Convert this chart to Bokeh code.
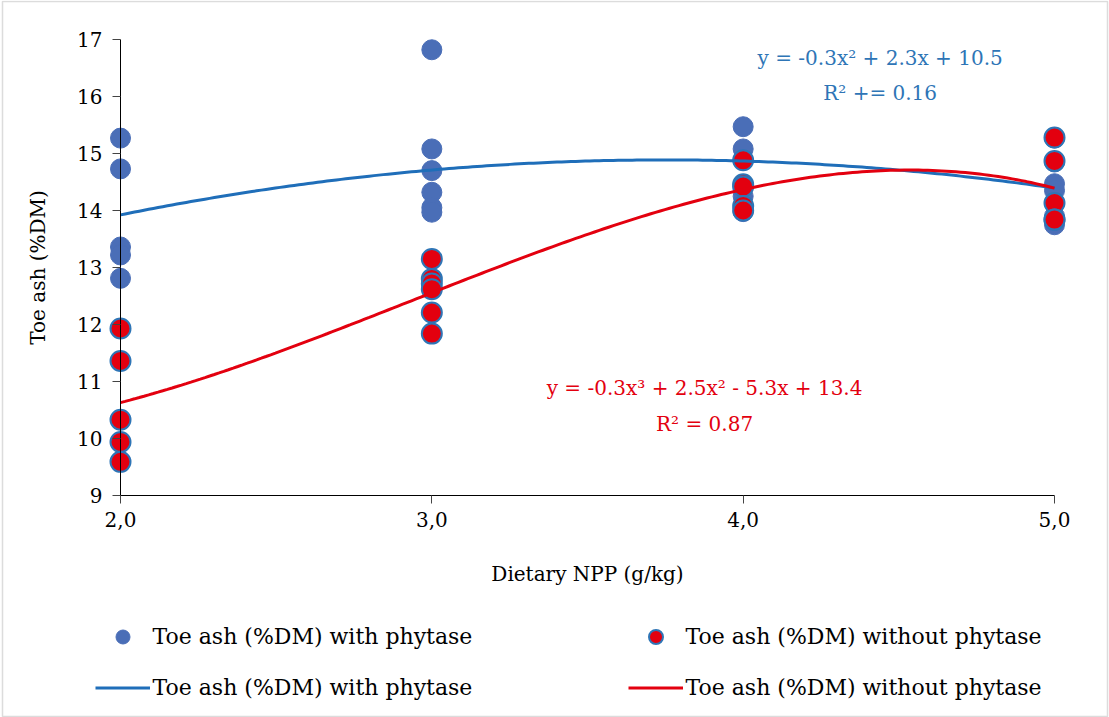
import numpy as np
from bokeh.plotting import figure
from bokeh.models import (Legend, LegendItem, Label, FixedTicker, ColumnDataSource,
                          Range1d, BoxAnnotation)
from bokeh.embed import file_html
from bokeh.resources import INLINE

# ---- data ----
with_x = [2, 2, 2, 2, 2,
          3, 3, 3, 3, 3, 3,
          4, 4, 4, 4, 4,
          5, 5, 5, 5, 5, 5]
with_y = [15.27, 14.73, 13.36, 13.22, 12.81,
          16.82, 15.08, 14.70, 14.32, 14.05, 13.97,
          15.47, 15.08, 14.88, 14.25, 13.98,
          15.27, 14.85, 14.47, 14.35, 13.90, 13.75]

without_x = [2, 2, 2, 2, 2,
             3, 3, 3, 3, 3, 3,
             4, 4, 4, 4, 4,
             5, 5, 5, 5, 5]
without_y = [11.93, 11.36, 10.33, 9.94, 9.59,
             13.15, 12.80, 12.72, 12.62, 12.21, 11.84,
             14.88, 14.46, 14.42, 14.08, 14.00,
             15.28, 14.87, 14.13, 13.84, 13.84]

x_ticks = [2, 3, 4, 5]
x_tick_labels = ["2,0", "3,0", "4,0", "5,0"]
y_ticks = [9, 10, 11, 12, 13, 14, 15, 16, 17]

label_with = "Toe ash (%DM) with phytase"
label_without = "Toe ash (%DM) without phytase"
eq_with = "y = -0.3x\u00b2 + 2.3x + 10.5"
r2_with = "R\u00b2 += 0.16"
eq_without = "y = -0.3x\u00b3 + 2.5x\u00b2 - 5.3x + 13.4"
r2_without = "R\u00b2 = 0.87"

# trend lines fitted to the points (as the spreadsheet does)
xs = np.linspace(2, 5, 200)
fit_with = np.polyval(np.polyfit(with_x, with_y, 2), xs)
fit_without = np.polyval(np.polyfit(without_x, without_y, 3), xs)

FONT = "DejaVu Serif"
BLUE_M = "#4A6EB7"
BLUE_L = "#1F6EB9"
RED = "#E3000F"
EDGE = "#2E75B6"

W, H = 1109, 717
# plot area in pixels: x 2..5 -> 120..1054, y 17..9 -> 39..495
PX_L, PX_R, PX_T, PX_B = 120, 1054, 39, 495
sx = (PX_R - PX_L) / 3.0
sy = (PX_B - PX_T) / 8.0
x_range = Range1d(2 - PX_L / sx, 5 + (W - PX_R) / sx)
y_range = Range1d(9 - (H - PX_B) / sy, 17 + PX_T / sy)

p = figure(width=W, height=H, x_range=x_range, y_range=y_range,
           output_backend="svg", toolbar_location=None,
           min_border=0, min_border_left=0, min_border_right=0,
           min_border_top=0, min_border_bottom=0)
p.outline_line_color = None
p.xgrid.visible = False
p.ygrid.visible = False
p.background_fill_color = "white"
p.border_fill_color = "white"

# thin frame around the whole picture
p.add_layout(BoxAnnotation(left=2, right=W - 2, top=H - 1, bottom=1,
                           left_units="screen", right_units="screen",
                           top_units="screen", bottom_units="screen",
                           fill_alpha=0, line_color="#8a8a8a", line_width=1.5,
                           level="underlay"))

p.xaxis.ticker = FixedTicker(ticks=x_ticks)
p.xaxis.major_label_overrides = {t: l for t, l in zip(x_ticks, x_tick_labels)}
p.yaxis.ticker = FixedTicker(ticks=y_ticks)
p.xaxis.fixed_location = 9
p.yaxis.fixed_location = 2
p.xaxis.bounds = (2, 5)
p.yaxis.bounds = (9, 17)
for ax in (p.xaxis, p.yaxis):
    ax.axis_line_color = "black"
    ax.axis_line_width = 1
    ax.major_tick_line_color = "#444444"
    ax.major_tick_out = 8
    ax.major_tick_in = 0
    ax.minor_tick_line_color = None
    ax.major_label_text_font = FONT
    ax.major_label_text_font_size = "20px"
    ax.major_label_text_color = "black"
    ax.axis_label_text_font = FONT
    ax.axis_label_text_font_size = "20px"
    ax.axis_label_text_font_style = "normal"
    ax.axis_label_text_color = "black"
p.xaxis.axis_label = "Dietary NPP (g/kg)"
p.yaxis.axis_label = "Toe ash (%DM)"
p.yaxis.major_label_standoff = 10
p.xaxis.major_label_standoff = 8
p.yaxis.axis_label_standoff = 24
p.xaxis.axis_label_standoff = 32

src_with = ColumnDataSource(dict(x=with_x, y=with_y))
src_without = ColumnDataSource(dict(x=without_x, y=without_y))

sc_with = p.scatter("x", "y", source=src_with, size=20, fill_color=BLUE_M,
                    line_color=BLUE_M, line_width=1)
sc_without = p.scatter("x", "y", source=src_without, size=20, fill_color=RED,
                       line_color=EDGE, line_width=2)
ln_with = p.line(xs, fit_with, line_color=BLUE_L, line_width=3)
ln_without = p.line(xs, fit_without, line_color=RED, line_width=3)

p.add_layout(Label(x=4.44, y=16.68, text=eq_with, text_align="center",
                   text_baseline="middle", text_font=FONT, text_font_size="20px",
                   text_color=EDGE))
p.add_layout(Label(x=4.44, y=16.07, text=r2_with, text_align="center",
                   text_baseline="middle", text_font=FONT, text_font_size="20px",
                   text_color=EDGE))
p.add_layout(Label(x=3.876, y=10.88, text=eq_without, text_align="center",
                   text_baseline="middle", text_font=FONT, text_font_size="20px",
                   text_color=RED))
p.add_layout(Label(x=3.876, y=10.26, text=r2_without, text_align="center",
                   text_baseline="middle", text_font=FONT, text_font_size="20px",
                   text_color=RED))

def make_legend(items, loc):
    return Legend(items=items, location=loc, orientation="vertical",
                  glyph_width=55, glyph_height=35, label_height=35,
                  label_standoff=3, spacing=16, padding=0, margin=0,
                  border_line_color=None, background_fill_alpha=0,
                  label_text_font=FONT, label_text_font_size="22px",
                  label_text_color="black", label_text_baseline="middle")

p.add_layout(make_legend([LegendItem(label=label_with, renderers=[sc_with]),
                          LegendItem(label=label_with, renderers=[ln_with])],
                         (94.5, 12.5)))
p.add_layout(make_legend([LegendItem(label=label_without, renderers=[sc_without]),
                          LegendItem(label=label_without, renderers=[ln_without])],
                         (627.5, 12.5)))

open("out.html", "w").write(file_html(p, INLINE))
